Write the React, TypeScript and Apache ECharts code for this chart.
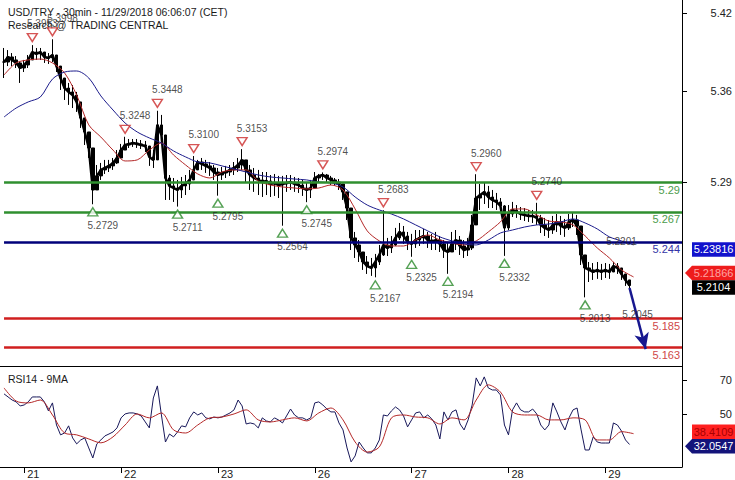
import React, { useEffect, useRef } from 'react';
import * as echarts from 'echarts';

// ---------- axis / category definitions ----------
const dayLabels = ['20', '21', '22', '23', '26', '27', '28', '29'];
const firstHour = -6; // category 0 = Nov 20, 18:00 (hours counted from Nov 21 00:00, weekend skipped)
const lastHour = 163;
const barStartHour = -5;

// ---------- price (hourly) ----------
const close = [
  5.3823, 5.3862, 5.3839, 5.3816, 5.3777,
  5.3800, 5.3839, 5.3900, 5.3885, 5.3900, 5.3862, 5.3854, 5.3877, 5.3792, 5.3700,
  5.3623, 5.3593, 5.3569, 5.3516, 5.3393, 5.3285, 5.3162, 5.2839, 5.2947, 5.2993,
  5.3008, 5.3024, 5.3047, 5.3085, 5.3146, 5.3185, 5.3193, 5.3200, 5.3193, 5.3185,
  5.3177, 5.3093, 5.3070, 5.3339, 5.3262, 5.2931, 5.2870, 5.2854, 5.2839, 5.2870,
  5.2885, 5.2916, 5.2993, 5.3054, 5.3039, 5.3024, 5.3008, 5.2977, 5.2954, 5.2970,
  5.2977, 5.2993, 5.3008, 5.3031, 5.3070, 5.2993, 5.2954, 5.2931, 5.2916, 5.2900,
  5.2908, 5.2885, 5.2893, 5.2877, 5.2885, 5.2893, 5.2900, 5.2885, 5.2877, 5.2854,
  5.2839, 5.2854, 5.2931, 5.2947, 5.2954, 5.2931, 5.2916, 5.2900, 5.2885, 5.2824,
  5.2700, 5.2470, 5.2416, 5.2362, 5.2285, 5.2254, 5.2239, 5.2285, 5.2339, 5.2416,
  5.2393, 5.2416, 5.2470, 5.2516, 5.2485, 5.2439, 5.2424, 5.2454, 5.2470, 5.2485,
  5.2454, 5.2439, 5.2454, 5.2424, 5.2377, 5.2362, 5.2424, 5.2454, 5.2408, 5.2377,
  5.2393, 5.2570, 5.2777, 5.2800, 5.2824, 5.2785, 5.2762, 5.2747, 5.2716, 5.2547,
  5.2654, 5.2685, 5.2670, 5.2654, 5.2647, 5.2639, 5.2639, 5.2624, 5.2570, 5.2547,
  5.2531, 5.2570, 5.2593, 5.2562, 5.2547, 5.2593, 5.2608, 5.2562, 5.2339, 5.2239,
  5.2224, 5.2208, 5.2224, 5.2208, 5.2224, 5.2208, 5.2254, 5.2239, 5.2193, 5.2147,
  5.2104,
];
const high = [
  5.3931, 5.3915, 5.3892, 5.3869, 5.3823,
  5.3839, 5.3877, 5.3953, 5.3931, 5.3931, 5.3900, 5.3892, 5.3998, 5.3854, 5.3792,
  5.3685, 5.3662, 5.3646, 5.3593, 5.3469, 5.3362, 5.3239, 5.3070, 5.3031, 5.3047,
  5.3070, 5.3070, 5.3085, 5.3146, 5.3193, 5.3248, 5.3231, 5.3231, 5.3231, 5.3223,
  5.3216, 5.3177, 5.3146, 5.3448, 5.3416, 5.3223, 5.2954, 5.2931, 5.2916, 5.2939,
  5.2954, 5.2993, 5.3100, 5.3070, 5.3085, 5.3070, 5.3054, 5.3031, 5.3008, 5.3016,
  5.3024, 5.3031, 5.3054, 5.3085, 5.3153, 5.3054, 5.3031, 5.3008, 5.2993, 5.2977,
  5.2977, 5.2954, 5.2962, 5.2947, 5.2947, 5.2954, 5.2954, 5.2939, 5.2931, 5.2916,
  5.2900, 5.2916, 5.2977, 5.2962, 5.2974, 5.2962, 5.2947, 5.2931, 5.2923, 5.2877,
  5.2793, 5.2608, 5.2516, 5.2454, 5.2362, 5.2331, 5.2316, 5.2347, 5.2416, 5.2683,
  5.2470, 5.2485, 5.2547, 5.2585, 5.2562, 5.2516, 5.2501, 5.2531, 5.2531, 5.2539,
  5.2516, 5.2501, 5.2516, 5.2485, 5.2454, 5.2439, 5.2516, 5.2531, 5.2485, 5.2454,
  5.2470, 5.2647, 5.2960, 5.2885, 5.2893, 5.2870, 5.2839, 5.2816, 5.2777, 5.2723,
  5.2723, 5.2747, 5.2723, 5.2708, 5.2700, 5.2685, 5.2685, 5.2740, 5.2647, 5.2624,
  5.2608, 5.2639, 5.2654, 5.2639, 5.2616, 5.2654, 5.2662, 5.2647, 5.2531, 5.2316,
  5.2285, 5.2277, 5.2285, 5.2270, 5.2277, 5.2270, 5.2285, 5.2277, 5.2239, 5.2193,
  5.2147,
];
const low = [
  5.3700, 5.3792, 5.3792, 5.3777, 5.3662,
  5.3746, 5.3777, 5.3854, 5.3839, 5.3839, 5.3816, 5.3808, 5.3823, 5.3746, 5.3608,
  5.3531, 5.3493, 5.3469, 5.3439, 5.3316, 5.3185, 5.3085, 5.2729, 5.2877, 5.2916,
  5.2962, 5.2977, 5.2993, 5.3039, 5.3085, 5.3146, 5.3162, 5.3170, 5.3162, 5.3154,
  5.3131, 5.3024, 5.3008, 5.3070, 5.3208, 5.2762, 5.2762, 5.2747, 5.2711, 5.2777,
  5.2800, 5.2839, 5.2916, 5.3008, 5.2993, 5.2970, 5.2947, 5.2916, 5.2795, 5.2916,
  5.2931, 5.2947, 5.2954, 5.2977, 5.2993, 5.2900, 5.2839, 5.2824, 5.2800, 5.2785,
  5.2800, 5.2785, 5.2793, 5.2777, 5.2564, 5.2824, 5.2839, 5.2824, 5.2816, 5.2793,
  5.2745, 5.2777, 5.2870, 5.2900, 5.2916, 5.2893, 5.2877, 5.2870, 5.2839, 5.2762,
  5.2608, 5.2377, 5.2316, 5.2285, 5.2224, 5.2193, 5.2178, 5.2167, 5.2262, 5.2331,
  5.2331, 5.2354, 5.2408, 5.2454, 5.2424, 5.2377, 5.2325, 5.2393, 5.2408, 5.2424,
  5.2393, 5.2377, 5.2377, 5.2362, 5.2316, 5.2194, 5.2362, 5.2377, 5.2339, 5.2316,
  5.2331, 5.2377, 5.2647, 5.2685, 5.2731, 5.2700, 5.2700, 5.2685, 5.2670, 5.2332,
  5.2531, 5.2631, 5.2624, 5.2608, 5.2600, 5.2593, 5.2585, 5.2570, 5.2508, 5.2485,
  5.2470, 5.2501, 5.2516, 5.2493, 5.2478, 5.2531, 5.2554, 5.2493, 5.2262, 5.2013,
  5.2131, 5.2147, 5.2155, 5.2147, 5.2162, 5.2155, 5.2208, 5.2193, 5.2147, 5.2101,
  5.2085,
];

// ---------- moving averages (sampled every 3 hours from barStartHour) ----------
const maStep = 3;
const maRed = [
  5.3723, 5.3816, 5.3839, 5.3846, 5.3816, 5.3739, 5.3569, 5.3339, 5.3246, 5.3146,
  5.3062, 5.3070, 5.3146, 5.3200, 5.3108, 5.3031, 5.2962, 5.2931, 5.2977, 5.2993,
  5.2993, 5.2908, 5.2877, 5.2862, 5.2854, 5.2847, 5.2854, 5.2877, 5.2839, 5.2693,
  5.2524, 5.2447, 5.2408, 5.2408, 5.2454, 5.2493, 5.2454, 5.2431, 5.2416, 5.2447,
  5.2516, 5.2593, 5.2693, 5.2693, 5.2647, 5.2600, 5.2593, 5.2570, 5.2485, 5.2393,
  5.2316, 5.2224, 5.2170,
];
const maBlue = [
  5.3400, 5.3469, 5.3516, 5.3554, 5.3692, 5.3746, 5.3754, 5.3700, 5.3562, 5.3454,
  5.3354, 5.3285, 5.3239, 5.3200, 5.3139, 5.3093, 5.3054, 5.3047, 5.3024, 5.3001,
  5.2977, 5.2954, 5.2939, 5.2931, 5.2923, 5.2916, 5.2900, 5.2893, 5.2862, 5.2785,
  5.2723, 5.2685, 5.2654, 5.2616, 5.2570, 5.2524, 5.2478, 5.2447, 5.2424, 5.2416,
  5.2454, 5.2508, 5.2531, 5.2554, 5.2570, 5.2577, 5.2593, 5.2616, 5.2585, 5.2539,
  5.2478, 5.2447, 5.2416,
];

// ---------- RSI ----------
const rsi14 = [
  61.8, 60.0, 58.2, 57.1, 54.7,
  55.3, 57.1, 60.0, 60.0, 60.0, 57.1, 51.8, 56.5, 43.5, 37.7,
  38.8, 43.0, 35.9, 32.4, 34.7, 35.9, 30.0, 24.1, 32.4, 34.7,
  37.1, 38.2, 39.4, 41.8, 47.7, 50.0, 50.6, 50.6, 50.0, 48.8,
  45.3, 41.8, 59.4, 66.5, 49.4, 33.5, 38.2, 36.5, 39.4, 43.0,
  42.4, 47.7, 51.2, 49.4, 50.6, 47.7, 47.1, 48.2, 47.7, 48.2,
  49.4, 50.6, 52.4, 58.2, 54.7, 44.1, 44.7, 44.1, 41.8, 47.7,
  45.9, 45.3, 47.7, 46.5, 44.7, 48.8, 52.9, 49.4, 47.7, 47.7,
  46.5, 47.7, 56.5, 57.1, 55.3, 52.9, 51.2, 51.2, 44.7, 40.6,
  30.0, 21.8, 25.3, 33.5, 30.0, 27.1, 27.1, 30.0, 34.7, 49.4,
  48.8, 51.8, 54.1, 52.4, 48.8, 42.4, 46.5, 50.6, 51.2, 47.7,
  49.4, 47.1, 43.5, 35.3, 51.2, 46.5, 51.2, 52.4, 44.1, 40.6,
  46.5, 55.3, 71.2, 66.5, 71.8, 65.3, 64.1, 64.1, 61.2, 43.5,
  37.7, 52.4, 56.5, 52.4, 51.2, 51.2, 52.9, 50.0, 43.5, 40.6,
  43.5, 56.5, 51.2, 45.3, 40.6, 47.7, 52.4, 53.5, 40.6, 28.8,
  28.8, 36.5, 33.5, 32.9, 32.9, 32.9, 44.7, 43.5, 40.0, 34.7,
  32.05,
];
const rsiMa9 = [
  65.3, 57.6, 56.5, 58.2, 49.4, 38.8, 37.7, 35.3, 33.0, 36.5,
  43.5, 50.0, 47.7, 50.6, 40.6, 38.8, 43.5, 47.7, 48.2, 50.0,
  52.4, 46.5, 45.3, 46.5, 47.7, 45.9, 50.6, 53.5, 46.5, 33.5,
  27.6, 30.6, 47.7, 49.4, 48.2, 47.7, 44.1, 47.7, 46.5, 58.2,
  67.1, 62.9, 51.2, 49.4, 49.4, 46.5, 46.5, 47.7, 46.5, 34.7,
  34.7, 39.6, 38.4,
];

// ---------- annotations ----------
const hiHours = [2, 7, 25, 33, 42, 54, 74, 89, 112, 127];
const hiValues = [5.3953, 5.3998, 5.3248, 5.3448, 5.31, 5.3153, 5.2974, 5.2683, 5.296, 5.274];
const loHours = [17, 38, 48, 64, 70, 87, 96, 105, 119, 139];
const loValues = [5.2729, 5.2711, 5.2795, 5.2564, 5.2745, 5.2167, 5.2325, 5.2194, 5.2332, 5.2013];
const noteHours = [148, 152];
const noteValues = [5.2439, 5.1878];
const noteTexts = ['5.2201', '5.2045'];

const levels = [5.29, 5.267, 5.244, 5.185, 5.163];
const levelColors = ['#2f8f2f', '#2f8f2f', '#00007a', '#d01f1f', '#d01f1f'];
const levelTextColors = ['#4c9c4c', '#4c9c4c', '#3434a6', '#d04848', '#d04848'];

const arrowFrom = [150, 5.2085];
const arrowTo = [154, 5.1615];

const priceTags = [
  { v: 5.23816, bg: '#1212cc', fg: '#ffffff', arrow: false },
  { v: 5.21866, bg: '#ee1c1c', fg: '#ffa3a3', arrow: true },
  { v: 5.2104, bg: '#000000', fg: '#ffffff', arrow: false },
];
const rsiTags = [
  { v: 38.4109, bg: '#ff2020', fg: '#a80000', arrow: false },
  { v: 32.0547, bg: '#13137a', fg: '#ffffff', arrow: true },
];

const priceTicks = [5.29, 5.36, 5.42];
const rsiTicks = [50, 70];

const FONT = 'Liberation Sans, Arial, sans-serif';

export default function App() {
  const ref = useRef<HTMLDivElement>(null);

  useEffect(() => {
    if (!ref.current) return;
    const chart = echarts.init(ref.current, undefined, { renderer: 'svg' });

    const cats: string[] = [];
    for (let h = firstHour; h <= lastHour; h++) {
      const d = Math.floor((h + 24) / 24);
      const hh = ((h % 24) + 24) % 24;
      cats.push(`${dayLabels[d] ?? ''}|${String(hh).padStart(2, '0')}`);
    }
    const kOf = (h: number) => h - firstHour;
    const lastK = cats.length - 1;

    const candles = cats.map((_, k) => {
      const i = k + firstHour - barStartHour;
      if (i < 0 || i >= close.length) return '-';
      const o = i > 0 ? close[i - 1] : close[i];
      const c = close[i];
      return [o, c, Math.min(low[i], o, c), Math.max(high[i], o, c)];
    });

    const maPairs = (arr: number[]) => arr.map((v, j) => [kOf(barStartHour + j * maStep), v]);
    const hourlyPairs = (arr: number[]) => arr.map((v, i) => [kOf(barStartHour + i), v]);

    const isDayStart = (_i: number, val: string) => String(val).endsWith('|00');
    const titleStyle = { fontSize: 10.5, fontWeight: 'normal', color: '#1a1a1a', fontFamily: FONT };

    const option: any = {
      animation: false,
      textStyle: { fontFamily: FONT },
      title: [
        { text: 'USD/TRY - 30min - 11/29/2018 06:06:07 (CET)', left: 3, top: 1, textStyle: titleStyle },
        { text: 'Research @ TRADING CENTRAL', left: 3, top: 14, textStyle: titleStyle },
        { text: 'RSI14 - 9MA', left: 3, top: 368, textStyle: titleStyle },
      ],
      grid: [
        { left: 0, right: 52, top: 0, bottom: 114 },
        { left: 0, right: 52, top: 366, bottom: 13 },
      ],
      xAxis: [
        {
          type: 'category', gridIndex: 0, data: cats, boundaryGap: false,
          axisLine: { show: true, lineStyle: { color: '#000', width: 1 } },
          axisTick: { show: false }, axisLabel: { show: false }, splitLine: { show: false },
        },
        {
          type: 'category', gridIndex: 1, data: cats, boundaryGap: false,
          axisLine: { show: true, lineStyle: { color: '#000', width: 1 } },
          axisTick: { show: true, interval: isDayStart, length: 6, lineStyle: { color: '#000' } },
          axisLabel: {
            show: true, interval: isDayStart, formatter: (v: string) => v.split('|')[0],
            align: 'left', margin: 1, padding: [0, 0, 0, 3], fontSize: 11, color: '#222', fontFamily: FONT,
          },
          splitLine: { show: false },
        },
      ],
      yAxis: [
        {
          type: 'value', gridIndex: 0, position: 'right', min: 5.1485, max: 5.43,
          axisLine: { show: true, lineStyle: { color: '#000' } },
          axisTick: { show: true, length: 5, customValues: priceTicks, lineStyle: { color: '#000' } },
          axisLabel: {
            show: true, customValues: priceTicks, formatter: (v: number) => v.toFixed(2),
            margin: 50, align: 'right', fontSize: 11, color: '#222', fontFamily: FONT,
          },
          splitLine: { show: false },
        },
        {
          type: 'value', gridIndex: 1, position: 'right', min: 18.8, max: 78.2,
          axisLine: { show: true, lineStyle: { color: '#000' } },
          axisTick: { show: true, length: 5, customValues: rsiTicks, lineStyle: { color: '#000' } },
          axisLabel: {
            show: true, customValues: rsiTicks, margin: 50, align: 'right', fontSize: 11, color: '#222', fontFamily: FONT,
          },
          splitLine: { show: false },
        },
      ],
      series: [
        {
          type: 'line', xAxisIndex: 0, yAxisIndex: 0, data: hourlyPairs(close), symbol: 'none',
          lineStyle: { color: '#000', width: 2.5 }, z: 2,
        },
        {
          type: 'candlestick', xAxisIndex: 0, yAxisIndex: 0, data: candles, barWidth: 3,
          itemStyle: { color: '#000', color0: '#000', borderColor: '#000', borderColor0: '#000', borderWidth: 1 },
          markLine: {
            silent: true, symbol: ['none', 'none'], animation: false,
            data: [
              ...levels.map((v, i) => [
                {
                  coord: [1, v],
                  lineStyle: { color: levelColors[i], width: 2.5, type: 'solid' },
                  label: {
                    show: true, position: 'insideEndBottom', formatter: String(v), distance: 2,
                    color: levelTextColors[i], fontSize: 11, fontFamily: FONT,
                  },
                },
                { coord: [lastK, v] },
              ]),
              [
                {
                  coord: [kOf(arrowFrom[0]), arrowFrom[1]], symbol: 'none',
                  lineStyle: { color: '#17178f', width: 2.5, type: 'solid' }, label: { show: false },
                },
                { coord: [kOf(arrowTo[0]), arrowTo[1]], symbol: 'arrow', symbolSize: [11, 16] },
              ],
            ],
          },
          z: 3,
        },
        {
          type: 'line', xAxisIndex: 0, yAxisIndex: 0, data: maPairs(maRed), symbol: 'none', smooth: 0.3,
          lineStyle: { color: '#b42828', width: 1 }, z: 4,
        },
        {
          type: 'line', xAxisIndex: 0, yAxisIndex: 0, data: maPairs(maBlue), symbol: 'none', smooth: 0.3,
          lineStyle: { color: '#1c1c8c', width: 1 }, z: 4,
        },
        {
          type: 'scatter', xAxisIndex: 0, yAxisIndex: 0,
          data: hiHours.map((h, i) => [kOf(h), hiValues[i]]),
          symbol: 'path://M0 0L10 0L5 8Z', symbolSize: [10, 8], symbolOffset: [0, -7.5],
          itemStyle: { color: '#fff', borderColor: '#cc2a2a', borderWidth: 1.4 },
          label: {
            show: true, position: 'top', distance: 4, offset: [10, 0],
            formatter: (p: any) => p.value[1].toFixed(4), fontSize: 10, color: '#222', fontFamily: FONT,
          },
          z: 10,
        },
        {
          type: 'scatter', xAxisIndex: 0, yAxisIndex: 0,
          data: loHours.map((h, i) => [kOf(h), loValues[i]]),
          symbol: 'path://M5 0L10 8L0 8Z', symbolSize: [10, 8], symbolOffset: [0, 7.5],
          itemStyle: { color: '#fff', borderColor: '#2a8a2a', borderWidth: 1.4 },
          label: {
            show: true, position: 'bottom', distance: 4, offset: [10, 0],
            formatter: (p: any) => p.value[1].toFixed(4), fontSize: 10, color: '#222', fontFamily: FONT,
          },
          z: 10,
        },
        {
          type: 'scatter', xAxisIndex: 0, yAxisIndex: 0,
          data: noteHours.map((h, i) => [kOf(h), noteValues[i]]),
          symbol: 'circle', symbolSize: 1, itemStyle: { color: 'rgba(0,0,0,0)' },
          label: {
            show: true, position: 'inside', formatter: (p: any) => noteTexts[p.dataIndex],
            fontSize: 10, color: '#222', fontFamily: FONT,
          },
          z: 10,
        },
        {
          type: 'line', xAxisIndex: 1, yAxisIndex: 1, data: hourlyPairs(rsi14), symbol: 'none',
          lineStyle: { color: '#18185a', width: 1 },
        },
        {
          type: 'line', xAxisIndex: 1, yAxisIndex: 1, data: maPairs(rsiMa9), symbol: 'none', smooth: 0.3,
          lineStyle: { color: '#b42828', width: 1 },
        },
      ],
    };

    chart.setOption(option);

    // value tags on the right axis, positioned through the axis scale
    const H = 14.5;
    const place = (list: typeof priceTags, axisIdx: number) => {
      const items = list.map((t) => ({ ...t, y: chart.convertToPixel({ yAxisIndex: axisIdx } as any, t.v) as number }));
      items.sort((a, b) => a.y - b.y);
      for (let it = 0; it < 6; it++) {
        for (let i = 1; i < items.length; i++) {
          const gap = items[i].y - items[i - 1].y;
          if (gap < H) {
            const d = (H - gap) / 2;
            items[i - 1].y -= d;
            items[i].y += d;
          }
        }
      }
      return items;
    };
    const tags = [...place(priceTags, 0), ...place(rsiTags, 1)];
    const graphics: any[] = [];
    tags.forEach((t) => {
      const y = t.y;
      if (t.arrow) {
        graphics.push({
          type: 'polygon', silent: true,
          shape: { points: [[685, y], [692, y - H / 2], [735, y - H / 2], [735, y + H / 2], [692, y + H / 2]] },
          style: { fill: t.bg },
        });
      } else {
        graphics.push({ type: 'rect', silent: true, shape: { x: 692, y: y - H / 2, width: 43, height: H }, style: { fill: t.bg } });
      }
      graphics.push({
        type: 'text', silent: true, x: 713.5, y,
        style: {
          text: String(t.v), fill: t.fg, font: `11px ${FONT}`, textAlign: 'center', textVerticalAlign: 'middle',
        },
      });
    });
    chart.setOption({ graphic: graphics });

    return () => chart.dispose();
  }, []);

  return <div ref={ref} style={{ position: 'absolute', left: 0, top: 0, width: 735, height: 480 }} />;
}
